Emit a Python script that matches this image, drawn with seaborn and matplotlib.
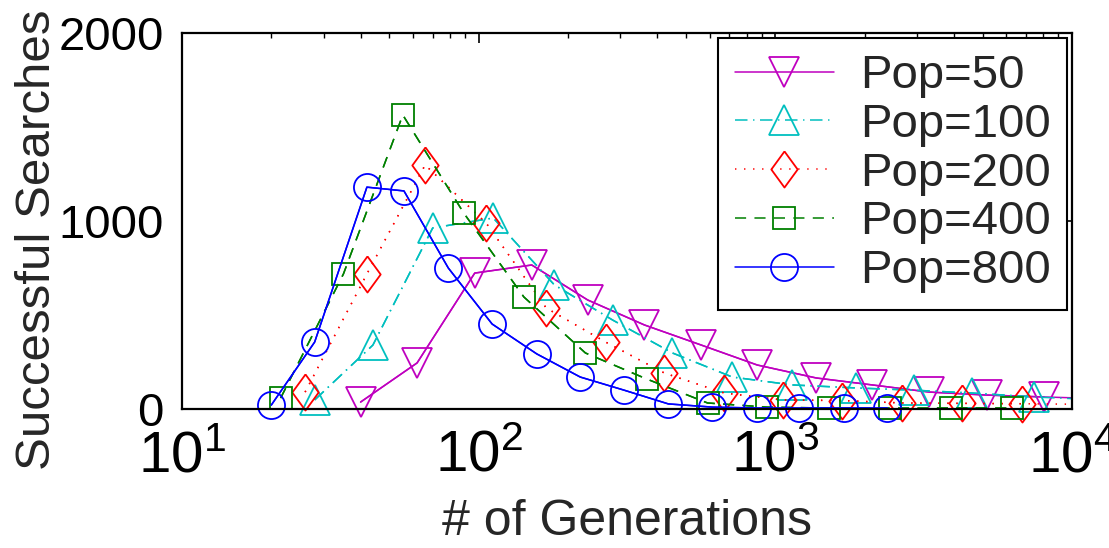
import numpy as np
import pandas as pd
import matplotlib
matplotlib.use("Agg")
import matplotlib.pyplot as plt
import seaborn as sns

# values
gens_50 = [40, 62, 97, 151, 233, 362, 563, 869, 1374, 2122, 3304, 5177, 8054, 12530]
succ_50 = [37, 245, 723, 766, 580, 447, 340, 234, 165, 128, 90, 74, 64, 55]

gens_100 = [28, 44, 70, 112, 180, 283, 450, 716, 1140, 1874, 2938, 4603, 7447, 11860]
succ_100 = [48, 340, 963, 1016, 660, 473, 298, 170, 128, 112, 100, 85, 64, 50]

gens_200 = [26, 42, 66, 106, 169, 268, 423, 673, 1064, 1682, 2680, 4266, 6792, 10810]
succ_200 = [90, 718, 1298, 989, 537, 356, 191, 85, 48, 45, 32, 30, 28, 25]

gens_400 = [21.5, 35, 55.5, 89, 142, 229, 368, 591, 940, 1520, 2440, 3917, 6285]
succ_400 = [58, 718, 1564, 1043, 596, 298, 160, 32, 10, 5, 5, 5, 5]

gens_800 = [20, 28, 42, 56, 79, 111, 157, 220, 308, 436, 614, 869, 1205, 1706, 2384]
succ_800 = [21, 356, 1180, 1160, 750, 452, 293, 170, 101, 27, 10, 5, 5, 5, 5]

labels = ["Pop=50", "Pop=100", "Pop=200", "Pop=400", "Pop=800"]

sns.set_style("white")
plt.rcParams["font.family"] = ["Liberation Sans", "DejaVu Sans"]
plt.rcParams["mathtext.fontset"] = "custom"
plt.rcParams["mathtext.rm"] = "Liberation Sans"
plt.rcParams["mathtext.it"] = "Liberation Sans"
plt.rcParams["lines.scale_dashes"] = False

# style per series (matlab-ish)
diamond = [(0, 1), (0.73, 0), (0, -1), (-0.73, 0), (0, 1)]
styles = [
    dict(color="#BF00BF", marker="v", ms=22, ls="-"),
    dict(color="#00BFBF", marker="^", ms=22, ls=(0, (9, 4, 1, 4))),
    dict(color="#FF0000", marker=diamond, ms=26, ls=(0, (1, 5.5))),
    dict(color="#008000", marker="s", ms=16.5, ls=(0, (8, 6))),
    dict(color="#0000FF", marker="o", ms=19.5, ls="-"),
]
series = [(gens_50, succ_50), (gens_100, succ_100), (gens_200, succ_200),
          (gens_400, succ_400), (gens_800, succ_800)]

fig = plt.figure(figsize=(11.09, 5.48), dpi=100)
ax = fig.add_axes([182 / 1109, 1 - 409 / 548, 890 / 1109, 376 / 548])

for (g, s), st, lab in zip(series, styles, labels):
    df = pd.DataFrame({"gen": g, "succ": s})
    inside = df[df["gen"] <= 1e4]
    # full line, clipped at the frame
    sns.lineplot(data=df, x="gen", y="succ", ax=ax, color=st["color"], linestyle=st["ls"],
                 linewidth=1.1, errorbar=None, legend=False)
    # line + markers inside the range, markers not clipped
    sns.lineplot(data=inside, x="gen", y="succ", ax=ax, color=st["color"], linestyle=st["ls"],
                 linewidth=1.1, marker=st["marker"], markersize=st["ms"],
                 markerfacecolor="none", markeredgecolor=st["color"], markeredgewidth=1.3,
                 errorbar=None, label=lab, clip_on=False)

ax.set_xscale("log")
ax.set_xlim(10, 1e4)
ax.set_ylim(0, 2000)
ax.set_yticks([0, 1000, 2000])
ax.set_xlabel("# of Generations", fontsize=36, labelpad=11)
ax.set_ylabel("Successful Searches", fontsize=35.5)
ax.yaxis.set_label_coords(-0.137, 0.449)

for sp in ax.spines.values():
    sp.set_visible(True)
    sp.set_color("black")
    sp.set_linewidth(1.6)
ax.tick_params(which="both", direction="in", top=True, right=True, colors="black")
ax.tick_params(which="major", length=7, width=1.2)
ax.tick_params(axis="x", which="major", pad=15, labelsize=42)
ax.tick_params(axis="y", which="major", pad=13, labelsize=34)
ax.tick_params(which="minor", length=3.5, width=1.0)
ax.minorticks_on()
ax.yaxis.set_minor_locator(matplotlib.ticker.NullLocator())

leg = ax.legend(loc="upper right", fontsize=34, frameon=True, fancybox=False,
                edgecolor="black", framealpha=1, borderaxespad=0.1,
                handlelength=2.1, handletextpad=0.55, labelspacing=0.1, borderpad=0.35)
leg.get_frame().set_linewidth(1.5)

plt.savefig("out.png", dpi=100)
